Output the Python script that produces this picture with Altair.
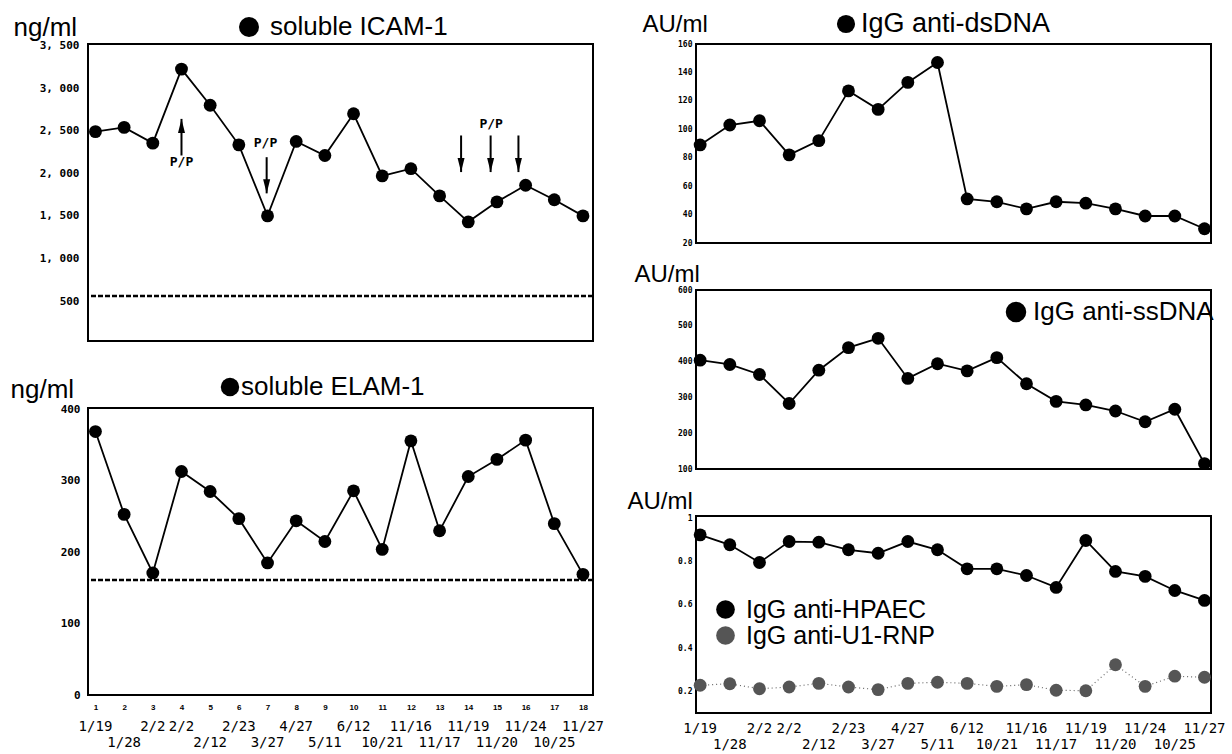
import altair as alt
import pandas as pd

# ---------------- data ----------------
IDX = list(range(1, 19))
DATES = ["1/19", "1/28", "2/2", "2/2", "2/12", "2/23", "3/27", "4/27", "5/11",
         "6/12", "10/21", "11/16", "11/17", "11/19", "11/20", "11/24", "10/25", "11/27"]
DATE_ROW = [1, 2, 1, 1, 2, 1, 2, 1, 2, 1, 2, 1, 2, 1, 2, 1, 2, 1]

ICAM = [2490, 2540, 2355, 3225, 2800, 2335, 1500, 2375, 2210, 2700,
        1970, 2055, 1735, 1430, 1665, 1860, 1690, 1500]
ELAM = [369, 253, 171, 313, 285, 247, 185, 244, 215, 286,
        204, 356, 230, 306, 330, 357, 240, 169]
DSDNA = [89, 103, 106, 82, 92, 127, 114, 133, 147, 51,
         49, 44, 49, 48, 44, 39, 39, 30]
SSDNA = [404, 392, 364, 283, 376, 439, 465, 353, 394, 374,
         411, 338, 289, 279, 262, 232, 267, 115]
HPAEC = [0.923, 0.877, 0.795, 0.892, 0.889, 0.854, 0.838, 0.892, 0.854, 0.766,
         0.766, 0.735, 0.680, 0.897, 0.754, 0.731, 0.666, 0.620]
U1RNP = [0.228, 0.235, 0.212, 0.220, 0.237, 0.220, 0.208, 0.237, 0.242, 0.237,
         0.223, 0.231, 0.205, 0.203, 0.323, 0.223, 0.270, 0.265]

ICAM_NORMAL = [560]
ELAM_NORMAL = [161]

ARROW_UP_X = [4.0]
ARROW_UP_FROM = [2210]
ARROW_UP_TO = [2640]
ARROW_DOWN_X = [6.97, 13.75, 14.78, 15.75]
ARROW_DOWN_FROM = [2190, 2445, 2445, 2445]
ARROW_DOWN_TO = [1765, 2015, 2015, 2015]
PP_X = [4.0, 6.93, 14.8]
PP_Y = [2135, 2360, 2585]
PP_TEXT = ["P/P", "P/P", "P/P"]

ICAM_TICKS = [500, 1000, 1500, 2000, 2500, 3000, 3500]
ELAM_TICKS = [0, 100, 200, 300, 400]
DS_TICKS = [20, 40, 60, 80, 100, 120, 140, 160]
SS_TICKS = [100, 200, 300, 400, 500, 600]
HP_TICKS = [0.2, 0.4, 0.6, 0.8, 1.0]

HP_NAME = "IgG anti-HPAEC"
U1_NAME = "IgG anti-U1-RNP"

# ---------------- style ----------------
SANS = "Liberation Sans"
MONO = "DejaVu Sans Mono"
LX = [0.74, 18.35]
RX = [0.86, 18.22]
ICAM_DOM = [30, 3520]
ELAM_DOM = [0, 402]
DS_DOM = [20, 160]
SS_DOM = [100, 600]
HP_DOM = [0.1, 1.01]

LW, RW = 505, 515
PAD_L, PAD_T = 88, 44
PT = 165


def xenc(dom, axis, field="idx"):
    return alt.X(f"{field}:Q", scale=alt.Scale(domain=dom, nice=False, zero=False), axis=axis)


def yenc(field, dom, axis):
    return alt.Y(f"{field}:Q", scale=alt.Scale(domain=dom, nice=False, zero=False), axis=axis)


def yaxis(values, unit, tx, ty, fs, pad, expr=None, tfs=24):
    kw = dict(values=values, title=unit, titleAngle=0, titleX=tx, titleY=ty,
              titleAlign="left", titleBaseline="middle", titleFont=SANS,
              titleFontSize=tfs, titleFontWeight="normal", titleColor="black",
              labelFont=MONO, labelFontSize=fs, labelFontWeight="bold",
              labelColor="black", labelPadding=pad, ticks=False, domain=False, grid=False)
    if expr:
        kw["labelExpr"] = expr
    return alt.Axis(**kw)


def title_layers(text, bx, tx, ty, bsize=340, fs=26):
    df = pd.DataFrame({"t": [text]})
    dot = alt.Chart(df).mark_point(filled=True, size=bsize, color="black", opacity=1,
                                   shape="circle").encode(x=alt.value(bx), y=alt.value(ty))
    txt = alt.Chart(df).mark_text(align="left", baseline="middle", font=SANS, fontSize=fs,
                                  color="black").encode(text="t:N", x=alt.value(tx), y=alt.value(ty))
    return [dot, txt]


dates_df = pd.DataFrame({"idx": IDX, "date": DATES, "row": DATE_ROW})


def date_layers(dom, xa, h, off1, off2):
    out = []
    for r, off in ((1, off1), (2, off2)):
        out.append(alt.Chart(dates_df).transform_filter(f"datum.row == {r}")
                   .mark_text(font=MONO, fontSize=14, baseline="middle", color="black")
                   .encode(x=xenc(dom, xa), text="date:N", y=alt.value(h + off)))
    return out


def series_layers(values, dom, xdom, ya, xa):
    df = pd.DataFrame({"idx": IDX, "v": values})
    base = alt.Chart(df).encode(x=xenc(xdom, xa), y=yenc("v", dom, ya))
    return [base.mark_line(color="black", strokeWidth=1.8),
            base.mark_circle(color="black", size=PT, opacity=1)]


# ---------------- soluble ICAM-1 ----------------
IH = 297
ia = yaxis(ICAM_TICKS, "ng/ml", -75, -17, 11, 9,
           "replace(format(datum.value, ','), ',', ', ')", tfs=26)
icam_norm = alt.Chart(pd.DataFrame({"v": ICAM_NORMAL})).mark_rule(
    color="black", strokeWidth=2.5, strokeDash=[5, 2]).encode(y=yenc("v", ICAM_DOM, ia))
up_df = pd.DataFrame({"x": ARROW_UP_X, "y0": ARROW_UP_FROM, "y1": ARROW_UP_TO})
dn_df = pd.DataFrame({"x": ARROW_DOWN_X, "y0": ARROW_DOWN_FROM, "y1": ARROW_DOWN_TO})
up_rule = alt.Chart(up_df).mark_rule(color="black", strokeWidth=2).encode(
    x=xenc(LX, None, "x"), y=yenc("y0", ICAM_DOM, ia), y2="y1:Q")
dn_rule = alt.Chart(dn_df).mark_rule(color="black", strokeWidth=2).encode(
    x=xenc(LX, None, "x"), y=yenc("y0", ICAM_DOM, ia), y2="y1:Q")
up_head = alt.Chart(up_df).mark_point(shape="M0,0L0.5,2L-0.5,2Z", size=196, filled=True,
                                      color="black", opacity=1).encode(
    x=xenc(LX, None, "x"), y=yenc("y1", ICAM_DOM, ia))
dn_head = alt.Chart(dn_df).mark_point(shape="M0,0L0.5,-2L-0.5,-2Z", size=196, filled=True,
                                      color="black", opacity=1).encode(
    x=xenc(LX, None, "x"), y=yenc("y1", ICAM_DOM, ia))
pp = alt.Chart(pd.DataFrame({"x": PP_X, "y": PP_Y, "t": PP_TEXT})).mark_text(
    font=MONO, fontSize=13, fontWeight="bold", baseline="middle", color="black").encode(
    x=xenc(LX, None, "x"), y=yenc("y", ICAM_DOM, ia), text="t:N")

icam = alt.layer(
    *series_layers(ICAM, ICAM_DOM, LX, ia, None),
    icam_norm, up_rule, dn_rule, up_head, dn_head, pp,
    *title_layers("soluble ICAM-1", 161, 182, -17, 400),
).properties(width=LW, height=IH)

# ---------------- soluble ELAM-1 ----------------
EH = 287
ea = yaxis(ELAM_TICKS, "ng/ml", -78, -19, 11, 8, tfs=26)
exa = alt.Axis(values=IDX, title=None, labelFont=SANS, labelFontSize=8,
               labelFontWeight="bold", labelColor="black", labelPadding=8,
               ticks=False, domain=False, grid=False, labelFlush=False)
elam_norm = alt.Chart(pd.DataFrame({"v": ELAM_NORMAL})).mark_rule(
    color="black", strokeWidth=2.5, strokeDash=[5, 2]).encode(y=yenc("v", ELAM_DOM, ea))
elam = alt.layer(
    *series_layers(ELAM, ELAM_DOM, LX, ea, exa),
    elam_norm,
    *date_layers(LX, exa, EH, 32, 48),
    *title_layers("soluble ELAM-1", 142, 153, -21, 340),
).properties(width=LW, height=EH)

# ---------------- IgG anti-dsDNA ----------------
DH = 199
da = yaxis(DS_TICKS, "AU/ml", -54, -20, 8, 4)
ds = alt.layer(
    *series_layers(DSDNA, DS_DOM, RX, da, None),
    *title_layers("IgG anti-dsDNA", 150, 165, -20, 330, fs=27),
).properties(width=RW, height=DH)

# ---------------- IgG anti-ssDNA ----------------
SH = 179
sa = yaxis(SS_TICKS, "AU/ml", -62, -16, 8, 4)
ss = alt.layer(
    *series_layers(SSDNA, SS_DOM, RX, sa, None),
    *title_layers("IgG anti-ssDNA", 320, 337, 22, 420),
).properties(width=RW, height=SH)

# ---------------- IgG anti-HPAEC / anti-U1-RNP ----------------
HH = 197
ha = yaxis(HP_TICKS, "AU/ml", -69, -15, 8, 4,
           "datum.value == 1 ? '1' : format(datum.value, '.1f')")
hp_line = alt.Chart(pd.DataFrame({"idx": IDX, "v": HPAEC})).mark_line(
    color="black", strokeWidth=1.8).encode(x=xenc(RX, None), y=yenc("v", HP_DOM, ha))
u1_line = alt.Chart(pd.DataFrame({"idx": IDX, "v": U1RNP})).mark_line(
    color="#666666", strokeWidth=1.2, strokeDash=[1, 3]).encode(
    x=xenc(RX, None), y=yenc("v", HP_DOM, ha))
hp_long = pd.DataFrame({"idx": IDX + IDX, "v": HPAEC + U1RNP,
                        "series": [HP_NAME] * 18 + [U1_NAME] * 18})
hp_pts = alt.Chart(hp_long).mark_circle(size=PT, opacity=1).encode(
    x=xenc(RX, None), y=yenc("v", HP_DOM, ha),
    color=alt.Color("series:N",
                    scale=alt.Scale(domain=[HP_NAME, U1_NAME], range=["black", "#555555"]),
                    legend=alt.Legend(orient="none", legendX=713 - PAD_L, legendY=597 - PAD_T,
                                      title=None, labelFont=SANS, labelFontSize=25,
                                      labelColor="black", labelLimit=0, symbolSize=350,
                                      symbolType="circle", symbolStrokeWidth=0,
                                      rowPadding=-3, labelOffset=8, padding=0)))
hp = alt.layer(
    u1_line, hp_line, hp_pts,
    *date_layers(RX, None, HH, 16, 32),
).properties(width=RW, height=HH)

# ---------------- layout ----------------
left = alt.vconcat(icam, elam, spacing=67, bounds="flush")
right = alt.vconcat(ds, ss, hp, spacing=47, bounds="flush")
chart = alt.hconcat(left, right, spacing=20).properties(
    autosize=alt.AutoSizeParams(type="none"),
    padding={"left": PAD_L, "top": PAD_T, "right": 1232 - PAD_L, "bottom": 754 - PAD_T},
    background="white",
).configure(font=SANS, view=alt.ViewConfig(stroke="black", strokeWidth=2))

chart.save("out.html", embed_options={"renderer": "svg", "actions": False})
